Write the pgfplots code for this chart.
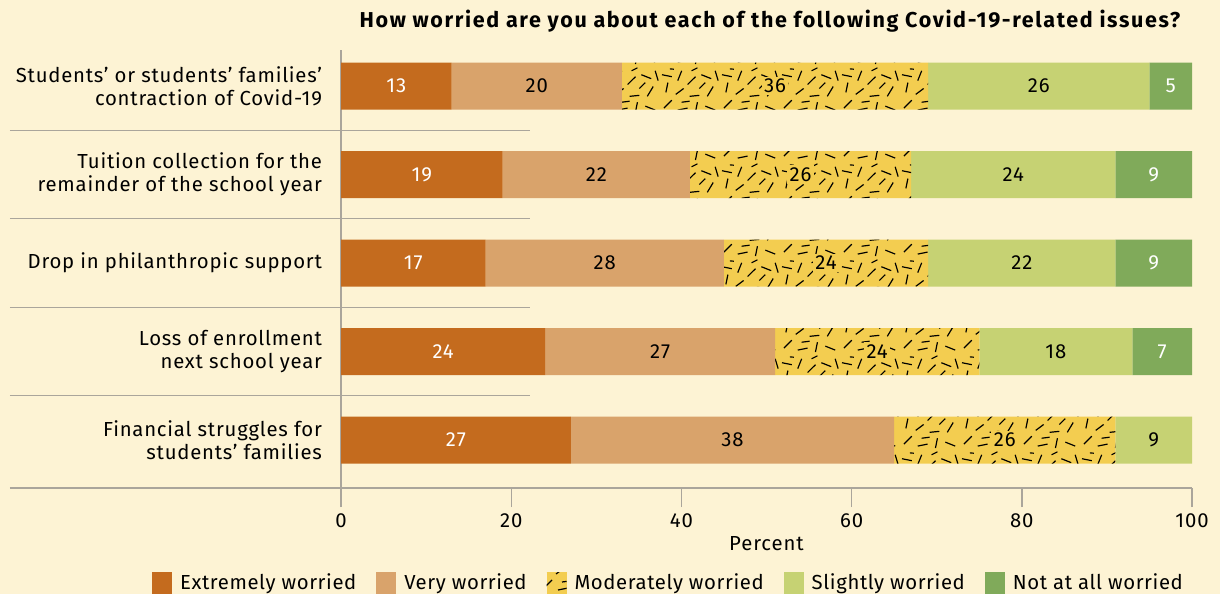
\documentclass[border=0pt]{standalone}
\usepackage{fontspec}
\setmainfont{Fira Sans}[LetterSpace=4.5]
\usepackage{pgfplots}
\usepackage{pgfplotstable}
\pgfplotsset{compat=1.18}
\usetikzlibrary{patterns}

\definecolor{bg}{RGB}{253,243,212}
\definecolor{cExt}{RGB}{196,107,30}
\definecolor{cVery}{RGB}{217,163,107}
\definecolor{cMod}{RGB}{243,205,80}
\definecolor{cSli}{RGB}{198,210,115}
\definecolor{cNot}{RGB}{128,170,90}
\definecolor{gline}{RGB}{170,165,155}

\pgfdeclarepatternformonly{mydashes}{\pgfqpoint{0bp}{0bp}}{\pgfqpoint{30bp}{24bp}}{\pgfqpoint{30bp}{24bp}}{%
  \pgfsetlinewidth{0.6bp}%
  \pgfpathmoveto{\pgfqpoint{2bp}{3bp}}\pgfpathlineto{\pgfqpoint{6bp}{7bp}}%
  \pgfpathmoveto{\pgfqpoint{9bp}{2bp}}\pgfpathlineto{\pgfqpoint{14bp}{3bp}}%
  \pgfpathmoveto{\pgfqpoint{18bp}{1bp}}\pgfpathlineto{\pgfqpoint{19bp}{6bp}}%
  \pgfpathmoveto{\pgfqpoint{23bp}{4bp}}\pgfpathlineto{\pgfqpoint{28bp}{2bp}}%
  \pgfpathmoveto{\pgfqpoint{3bp}{11bp}}\pgfpathlineto{\pgfqpoint{4bp}{16bp}}%
  \pgfpathmoveto{\pgfqpoint{8bp}{10bp}}\pgfpathlineto{\pgfqpoint{12bp}{13bp}}%
  \pgfpathmoveto{\pgfqpoint{15bp}{9bp}}\pgfpathlineto{\pgfqpoint{20bp}{9.5bp}}%
  \pgfpathmoveto{\pgfqpoint{24bp}{9bp}}\pgfpathlineto{\pgfqpoint{27bp}{14bp}}%
  \pgfpathmoveto{\pgfqpoint{1bp}{20bp}}\pgfpathlineto{\pgfqpoint{6bp}{19bp}}%
  \pgfpathmoveto{\pgfqpoint{9bp}{17bp}}\pgfpathlineto{\pgfqpoint{11bp}{22bp}}%
  \pgfpathmoveto{\pgfqpoint{14bp}{15bp}}\pgfpathlineto{\pgfqpoint{18bp}{19bp}}%
  \pgfpathmoveto{\pgfqpoint{21bp}{20bp}}\pgfpathlineto{\pgfqpoint{26bp}{18bp}}%
  \pgfpathmoveto{\pgfqpoint{28bp}{22bp}}\pgfpathlineto{\pgfqpoint{29.5bp}{17bp}}%
  \pgfpathmoveto{\pgfqpoint{11bp}{6bp}}\pgfpathlineto{\pgfqpoint{15bp}{6.5bp}}%
  \pgfpathmoveto{\pgfqpoint{20bp}{13bp}}\pgfpathlineto{\pgfqpoint{23bp}{16bp}}%
  \pgfpathmoveto{\pgfqpoint{5bp}{23bp}}\pgfpathlineto{\pgfqpoint{7bp}{22.8bp}}%
  \pgfpathmoveto{\pgfqpoint{16bp}{22bp}}\pgfpathlineto{\pgfqpoint{19bp}{23.5bp}}%
  \pgfusepath{stroke}}

\pgfplotstableread{
y ext very mod sli notat
5 13 20 36 26 5
4 19 22 26 24 9
3 17 28 24 22 9
2 24 27 24 18 7
1 27 38 26 9 0
}\data

\pgfplotstableread{
x y lab
6.5 5 13
9.5 4 19
8.5 3 17
12 2 24
13.5 1 27
97.5 5 5
95.5 4 9
95.5 3 9
96.5 2 7
}\labW

\pgfplotstableread{
x y lab
23 5 20
30 4 22
31 3 28
37.5 2 27
46 1 38
82 5 26
79 4 24
80 3 22
84 2 18
95.5 1 9
}\labB

\pgfplotstableread{
x y lab
51 5 36
54 4 26
57 3 24
63 2 24
78 1 26
}\labM

\begin{document}
\begin{tikzpicture}
\fill[bg] (0,0) rectangle (610bp,-297bp);
\path[use as bounding box] (0,0) rectangle (610bp,-297bp);
\node[font=\bfseries\fontsize{10.8}{12}\selectfont\addfontfeature{LetterSpace=7.6}, anchor=center] at (385bp,-10.5bp) {How worried are you about each of the following Covid-19-related issues?};

\begin{axis}[
  at={(170.5bp,-244bp)}, anchor=south west,
  scale only axis, width=425.5bp, height=219bp,
  xbar stacked, bar width=23.5bp,
  xmin=0, xmax=100, ymin=0.458, ymax=5.407,
  clip=false,
  axis x line*=bottom, axis y line*=left,
  axis line style={gline, line width=0.7bp},
  xtick={0,20,...,100},
  ytick={1,2,3,4,5},
  yticklabels={{Financial struggles for\\students’ families},{Loss of enrollment\\next school year},{Drop in philanthropic support},{Tuition collection for the\\remainder of the school year},{Students’ or students’ families’\\contraction of Covid-19}},
  yticklabel style={align=right, xshift=-6bp, font=\fontsize{10.2}{11.5}\selectfont\addfontfeature{LetterSpace=3.8}},
  ytick style={draw=none},
  xtick style={gline, line width=0.7bp},
  xtick align=outside, major tick length=9.5bp,
  xticklabel style={font=\fontsize{10.2}{12}\selectfont},
  /pgf/number format/assume math mode=true,
  xlabel={Percent},
  x label style={at={(axis description cs:0.5,-0.128)}, anchor=center, font=\fontsize{10.2}{12}\selectfont},
  legend image code/.code={\path[#1] (0bp,-5.5bp) rectangle (10bp,5.5bp);},
  legend style={at={(0.386,-0.217)}, anchor=center, legend columns=5, draw=none, fill=none,
    font=\fontsize{10.2}{12}\selectfont\addfontfeature{LetterSpace=3},
    /tikz/every odd column/.append style={column sep=2bp},
    /tikz/every even column/.append style={column sep=8bp}},
]
\addplot[fill=cExt, draw=none] table[x=ext, y=y] {\data};
\addplot[fill=cVery, draw=none] table[x=very, y=y] {\data};
\addplot[fill=cMod, draw=none, postaction={pattern=mydashes, pattern color=black}] table[x=mod, y=y] {\data};
\addplot[fill=cSli, draw=none] table[x=sli, y=y] {\data};
\addplot[fill=cNot, draw=none] table[x=notat, y=y] {\data};
\legend{Extremely worried, Very worried, Moderately worried, Slightly worried, Not at all worried}
\draw[gline, line width=0.7bp] (axis cs:-38.9,1.5) -- (axis cs:22.2,1.5);
\draw[gline, line width=0.7bp] (axis cs:-38.9,2.5) -- (axis cs:22.2,2.5);
\draw[gline, line width=0.7bp] (axis cs:-38.9,3.5) -- (axis cs:22.2,3.5);
\draw[gline, line width=0.7bp] (axis cs:-38.9,4.5) -- (axis cs:22.2,4.5);
\draw[gline, line width=0.7bp] (axis cs:-38.9,0.458) -- (axis cs:0,0.458);
\end{axis}

\begin{axis}[
  at={(170.5bp,-244bp)}, anchor=south west,
  scale only axis, width=425.5bp, height=219bp,
  xmin=0, xmax=100, ymin=0.458, ymax=5.407,
  hide axis, clip=false,
]
\addplot[draw=none, mark=none, nodes near coords, point meta=explicit symbolic,
  every node near coord/.append style={anchor=center, text=white, font=\fontsize{10.2}{12}\selectfont}]
  table[x=x, y=y, meta=lab] {\labW};
\addplot[draw=none, mark=none, nodes near coords, point meta=explicit symbolic,
  every node near coord/.append style={anchor=center, text=black, font=\fontsize{10.2}{12}\selectfont}]
  table[x=x, y=y, meta=lab] {\labB};
\addplot[draw=none, mark=none, nodes near coords, point meta=explicit symbolic,
  every node near coord/.append style={anchor=center, text=black, fill=cMod, inner sep=1.2bp, font=\fontsize{10.2}{12}\selectfont}]
  table[x=x, y=y, meta=lab] {\labM};
\end{axis}
\end{tikzpicture}
\end{document}
